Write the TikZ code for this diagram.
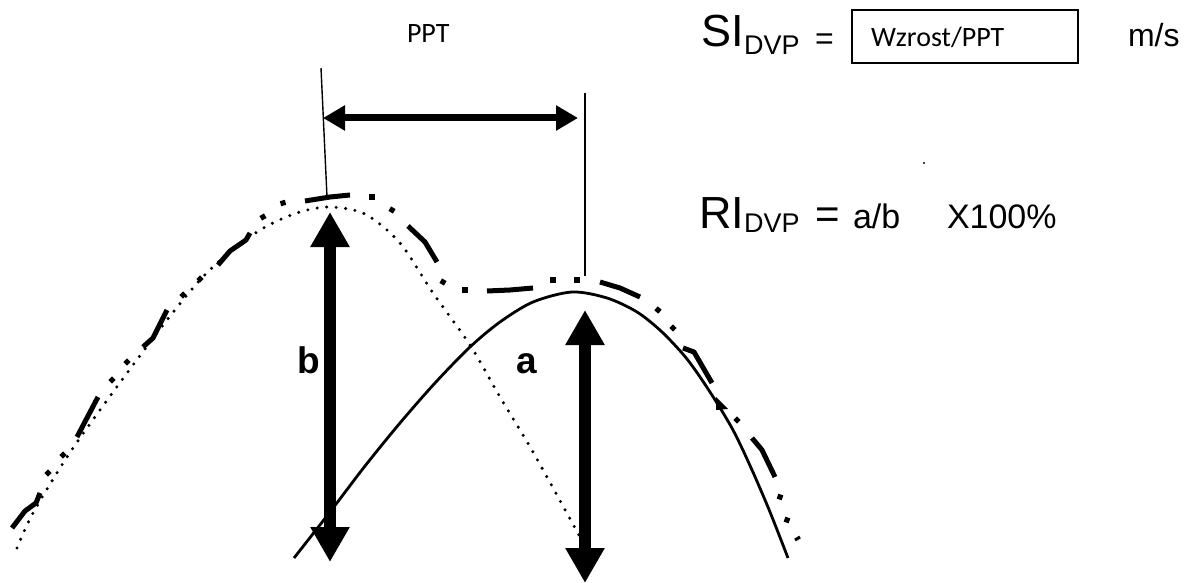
\documentclass[tikz,border=0pt]{standalone}
\usepackage{fontspec}
\setmainfont{Liberation Sans}
\newfontfamily\calib{Carlito}
\usetikzlibrary{arrows.meta}
\newcommand\sqdot[3]{\fill[shift={(#1,#2)},rotate=#3] (-2.6,-2.6) rectangle (2.6,2.6);}
\begin{document}
\begin{tikzpicture}[x=1pt,y=-1pt,
  txt/.style={anchor=base west, inner sep=0pt, outer sep=0pt},
  thinline/.style={line width=1.4pt},
  bigarrow/.style={line width=12pt, {Triangle[length=35pt,width=37pt]}-{Triangle[length=35pt,width=37pt]}},
  harrow/.style={line width=7pt, {Triangle[length=22pt,width=24pt]}-{Triangle[length=22pt,width=24pt]}},
  solidcurve/.style={line width=2.8pt},
  dotcurve/.style={line width=3.4pt, line cap=round, dash pattern=on 0pt off 9.5pt},
  dd/.style={line width=5pt, line join=round}
]
\useasboundingbox (0,0) rectangle (1192,583);

% texts
\node[txt, font=\calib\fontsize{28}{30}\selectfont] (ppt) at (407,43) {PPT};
\node[draw, line width=2pt, minimum width=226pt, minimum height=53pt, inner sep=0pt] (box) at (965,36.5) {};
\node[txt, font=\calib\fontsize{28}{30}\selectfont] (wz) at (871,47) {Wzrost/PPT};
\node[txt, font=\fontsize{45}{47}\selectfont] (si) at (701,47) {SI};
\node[txt, font=\fontsize{27}{29}\selectfont] (sisub) at (744,55) {DVP};
\node[txt, font=\fontsize{32}{34}\selectfont] (sieq) at (815,50) {=};
\node[txt, font=\fontsize{32}{34}\selectfont] (ms) at (1128,47) {m/s};

\node[txt, font=\fontsize{45}{47}\selectfont] (ri) at (699,228) {RI};
\node[txt, font=\fontsize{27}{29}\selectfont] (risub) at (744,233) {DVP};
\node[txt, font=\fontsize{42}{44}\selectfont] (rieq) at (815,228) {=};
\node[txt, font=\fontsize{34}{36}\selectfont] (ab) at (853,228) {a/b};
\node[txt, font=\fontsize{34}{36}\selectfont] (pct) at (947,228) {X100\%};
\fill (924,163) circle (1.2);

\node[txt, font=\bfseries\fontsize{37}{39}\selectfont] (lb) at (297,373) {b};
\node[txt, font=\bfseries\fontsize{37}{39}\selectfont] (la) at (516,373) {a};

% coordinates
\coordinate (vl1) at (321,68);
\coordinate (vl2) at (327,197);
\coordinate (vr1) at (585,93);
\coordinate (vr2) at (585,276);
\coordinate (h1) at (323,118);
\coordinate (h2) at (578,118);
\coordinate (b1) at (330,212);
\coordinate (b2) at (330,562);
\coordinate (a1) at (585,310);
\coordinate (a2) at (585,583);

% dotted curve
\draw[dotcurve] plot[smooth, tension=0.5] coordinates {(17,548) (33,513) (67,457) (100,410) (133,365) (167,320) (200,280) (233,249) (267,226) (300,212) (330,207) (365,214) (400,243) (433,293) (470,345) (500,397) (533,452) (580,537)};

% solid curve
\draw[solidcurve] plot[smooth, tension=0.5] coordinates {(294,558) (330,512) (365,466) (400,423) (435,383) (470,347) (500,322) (533,302) (572,292) (607,298) (637,312) (662,332) (687,359) (710,392) (733,430) (752,470) (770,512) (788,558)};

% dash-dot envelope: dashes
\draw[dd] (12,528) -- (25,511) -- (36,503) -- (40,493);
\draw[dd] (77,437) -- (88,416) -- (98,397);
\draw[dd] (143,347) -- (153,338) -- (167,310);
\draw[dd] (218,265) -- (230,251) -- (246,240) -- (250,233);
\draw[dd] (305,201) -- (330,197) -- (350,195);
\draw[dd] (408,226) -- (425,242) -- (437,262);
\draw[dd] (487,291) -- (510,290) -- (533,288);
\draw[dd] (600,282) -- (620,288) -- (640,297);
\draw[dd] (683,348) -- (694,352) -- (712,383);
\draw[dd] (752,438) -- (762,450) -- (775,477);
\draw[line width=3pt] (795,540) -- (800,537);
% dash-dot envelope: dots
\sqdot{48}{473}{45}
\sqdot{63}{455}{45}
\sqdot{112}{380}{45}
\sqdot{127}{362}{45}
\sqdot{183}{295}{45}
\sqdot{200}{279}{45}
\sqdot{263}{217}{30}
\sqdot{283}{203}{15}
\sqdot{372}{197}{0}
\sqdot{392}{210}{-30}
\sqdot{443}{282}{-30}
\sqdot{465}{290}{0}
\sqdot{553}{280}{0}
\sqdot{577}{280}{0}
\sqdot{658}{310}{-40}
\sqdot{673}{328}{-45}
\fill (716,397) -- (728,409) -- (716,410) -- cycle;
\sqdot{737}{420}{-45}
\sqdot{780}{497}{-20}
\sqdot{787}{520}{-20}

% vertical guide lines
\draw[thinline] (vl1) -- (vl2);
\draw[thinline] (vr1) -- (vr2);

% arrows
\draw[harrow] (h1) -- (h2);
\draw[bigarrow] (b1) -- (b2);
\draw[bigarrow] (a1) -- (a2);
\end{tikzpicture}
\end{document}
